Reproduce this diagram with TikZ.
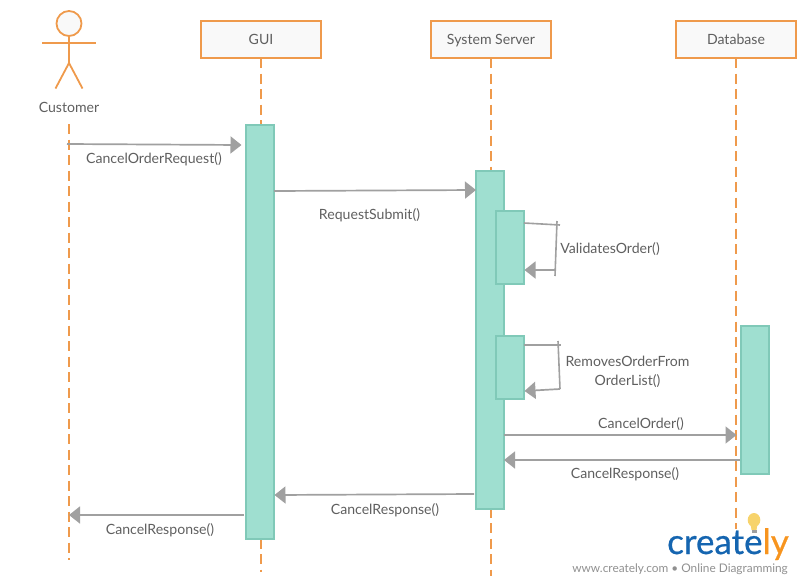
\documentclass[tikz,border=0pt]{standalone}
\usepackage{fontspec}
\setmainfont{Lato}
\newfontfamily\logofont[FakeBold=0.6]{Lato}
\usetikzlibrary{arrows.meta}
\definecolor{lineor}{HTML}{EF9A4C}
\definecolor{boxfill}{HTML}{F9F9F9}
\definecolor{actfill}{HTML}{9FDFD0}
\definecolor{actline}{HTML}{80C9B8}
\definecolor{msg}{HTML}{A0A0A0}
\definecolor{txt}{HTML}{5F5F5F}
\definecolor{logob}{HTML}{1565B0}
\definecolor{logoo}{HTML}{F7941E}
\definecolor{bulb}{HTML}{F7D36B}
\tikzset{
  x=1pt,y=-1pt,
  objbox/.style={draw=lineor,fill=boxfill,line width=1.8pt,minimum width=120pt,minimum height=37pt,inner sep=0pt,text=txt,text height=10pt,text depth=0pt,font=\fontsize{14.1}{16}\selectfont},
  lifeline/.style={draw=lineor,line width=1.9pt,dash pattern=on 10pt off 5.5pt},
  actbar/.style={draw=actline,fill=actfill,line width=1.7pt,minimum width=28pt,inner sep=0pt},
  actorline/.style={draw=lineor,line width=1.8pt},
  msgline/.style={draw=msg,line width=1.7pt,-{Triangle[length=11pt,width=17pt,color=msg]}},
  plainmsg/.style={draw=msg,line width=1.6pt},
  lbl/.style={text=txt,font=\fontsize{14.1}{19}\selectfont,inner sep=0pt,align=center},
}
\begin{document}
\begin{tikzpicture}
\useasboundingbox (0,0) rectangle (802,584);
% lifelines
\coordinate (cA) at (69,124); \coordinate (cB) at (69,560);
\coordinate (gA) at (261,58); \coordinate (gB) at (261,572);
\coordinate (sA) at (491,58); \coordinate (sB) at (491,576);
\coordinate (dA) at (736,58); \coordinate (dB) at (736,529);
\draw[lifeline] (cA) -- (cB);
\draw[lifeline] (gA) -- (gB);
\draw[lifeline] (sA) -- (sB);
\draw[lifeline] (dA) -- (dB);
% objects
\node[objbox] (gui) at (261,39.5) {GUI};
\node[objbox] (srv) at (491,39.5) {System Server};
\node[objbox] (db) at (736,39.5) {Database};
% actor
\node[circle,draw=lineor,fill=boxfill,line width=1.8pt,minimum size=25pt,inner sep=0pt] (head) at (69,23.5) {};
\coordinate (armL) at (42,43); \coordinate (armR) at (96,43);
\coordinate (hip) at (69,63); \coordinate (legL) at (55.5,88.5); \coordinate (legR) at (82.5,88.5);
\draw[actorline] (armL) -- (armR);
\draw[actorline] (head.south) -- (hip);
\draw[actorline] (legL) -- (hip) -- (legR);
\node[lbl] (cust) at (69,107.5) {Customer};
% activations
\node[actbar,minimum height=414pt] (aG) at (260,332) {};
\node[actbar,minimum height=338pt] (aS) at (490,340) {};
\node[actbar,minimum height=73pt] (aV) at (510,247.5) {};
\node[actbar,minimum height=63pt] (aR) at (510,367.5) {};
\node[actbar,minimum height=148pt] (aD) at (755,400) {};
% messages
\coordinate (m1s) at (67,144); \coordinate (m1e) at (241.5,145);
\draw[msgline] (m1s) -- (m1e);
\node[lbl] (l1) at (154,159) {CancelOrderRequest()};
\coordinate (m2s) at (274,191); \coordinate (m2e) at (476,190);
\draw[msgline] (m2s) -- (m2e);
\node[lbl] (l2) at (369.5,215) {RequestSubmit()};
% self 1
\coordinate (v1) at (524,223); \coordinate (v2) at (560,225);
\coordinate (v3) at (557,221); \coordinate (v4) at (555,276);
\coordinate (v5) at (555,270); \coordinate (v6) at (524.5,270);
\draw[plainmsg] (v1) -- (v2);
\draw[plainmsg] (v3) -- (v4);
\draw[msgline] (v5) -- (v6);
\node[lbl] (l3) at (610,249) {ValidatesOrder()};
% self 2
\coordinate (r1) at (524,345); \coordinate (r2) at (561,345);
\coordinate (r3) at (558,341); \coordinate (r4) at (560,389);
\coordinate (r5) at (524.5,391);
\draw[plainmsg] (r1) -- (r2);
\draw[plainmsg] (r3) -- (r4);
\draw[msgline] (r4) -- (r5);
\node[lbl] (l4) at (627.5,371.5) {RemovesOrderFrom\\OrderList()};
% returns
\coordinate (o1) at (504,435); \coordinate (o2) at (736.5,435);
\draw[msgline] (o1) -- (o2);
\node[lbl] (l5) at (641,424) {CancelOrder()};
\coordinate (p1) at (740,460); \coordinate (p2) at (504,460);
\draw[msgline] (p1) -- (p2);
\node[lbl] (l6) at (625,474.5) {CancelResponse()};
\coordinate (q1) at (474,494); \coordinate (q2) at (274.5,495);
\draw[msgline] (q1) -- (q2);
\node[lbl] (l7) at (385,510) {CancelResponse()};
\coordinate (t1) at (244,515); \coordinate (t2) at (69,515);
\draw[msgline] (t1) -- (t2);
\node[lbl] (l8) at (160,530.5) {CancelResponse()};
% logo
\fill[bulb] (754,520) ellipse (6.3pt and 7pt);
\fill[bulb] (750.5,524) -- (757.5,524) -- (756.5,530) -- (751.5,530) -- cycle;
\fill[msg] (751.5,530) rectangle (756.5,532.5);
\node[anchor=base west,inner sep=0pt,font=\fontsize{35}{37}\logofont] (logo) at (667,554) {\textcolor{logob}{create}\textcolor{logoo}{ly}};
\node[anchor=base east,inner sep=0pt,text=msg!90!black,font=\fontsize{11.85}{13}\selectfont] (tag) at (788,572) {www.creately.com • Online Diagramming};
\end{tikzpicture}
\end{document}
